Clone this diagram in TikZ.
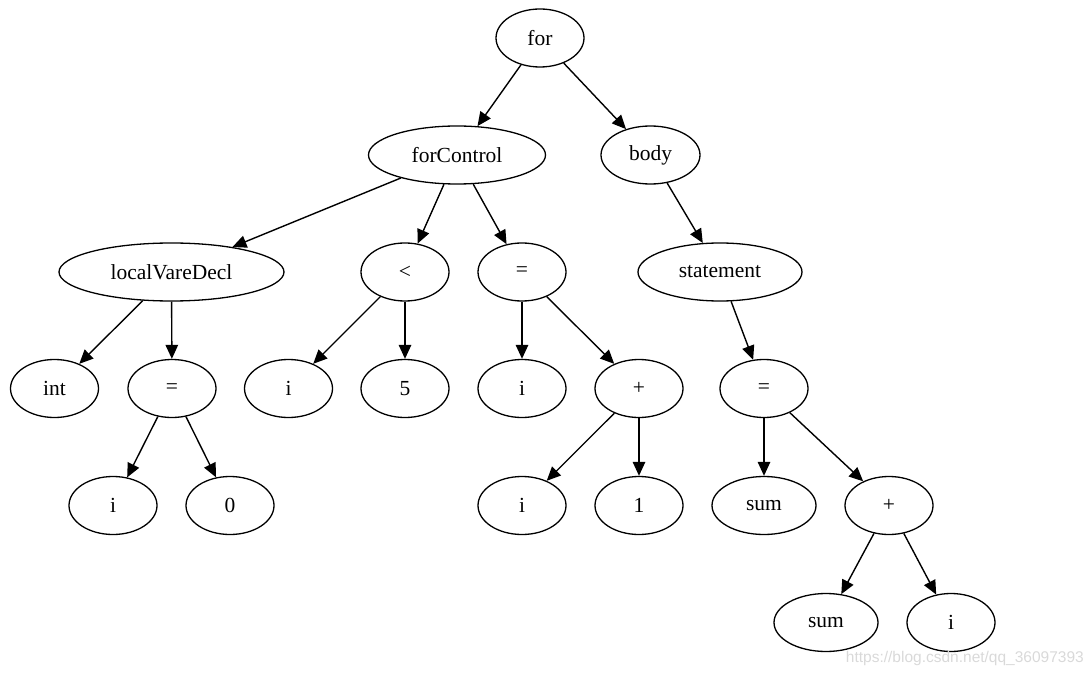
\documentclass[tikz,border=0pt]{standalone}
\usepackage{fontspec}
\setmainfont{Liberation Serif}
\newfontfamily\wmfont{Liberation Sans}
\usetikzlibrary{shapes.geometric,arrows.meta}
\begin{document}
\begin{tikzpicture}[x=1pt,y=-1pt,
  tn/.style={ellipse,draw,line width=1.3pt,inner sep=0pt,minimum height=58pt,minimum width=88pt,font=\fontsize{21.5}{24}\selectfont},
  edge/.style={line width=1.4pt,-{Triangle[length=14pt,width=12.5pt]}}]
\useasboundingbox (0,0) rectangle (1092,676);
\node[tn] (for) at (540,38) {for};
\node[tn,minimum width=177pt] (fc) at (457,155) {forControl};
\node[tn,minimum width=99pt] (body) at (650.5,155) {body};
\node[tn,minimum width=225pt] (lvd) at (171.5,272) {localVareDecl};
\node[tn] (lt) at (405,272) {<};
\node[tn] (eq1) at (522,272) {=};
\node[tn,minimum width=164pt] (st) at (720,272) {statement};
\node[tn] (int) at (54.5,388.5) {int};
\node[tn] (eq0) at (172,388.5) {=};
\node[tn] (i1) at (288.5,388.5) {i};
\node[tn] (five) at (405,388.5) {5};
\node[tn] (i2) at (522,388.5) {i};
\node[tn] (pl1) at (639,388.5) {+};
\node[tn] (eq2) at (764,388.5) {=};
\node[tn] (i0) at (113,505.5) {i};
\node[tn] (zero) at (230,505.5) {0};
\node[tn] (i3) at (522,505.5) {i};
\node[tn] (one) at (639,505.5) {1};
\node[tn,minimum width=104pt] (sum1) at (764,505.5) {sum};
\node[tn] (pl2) at (889,505.5) {+};
\node[tn,minimum width=104pt] (sum2) at (826,622.5) {sum};
\node[tn] (i4) at (951,622.5) {i};
\node[text=gray!30,font=\wmfont\fontsize{15.5}{17}\selectfont,anchor=east,inner sep=0pt] (wm) at (1084,658) {https://blog.csdn.net/qq\_36097393};
\foreach \a/\b in {for/fc,for/body,fc/lvd,fc/lt,fc/eq1,body/st,lvd/int,lvd/eq0,lt/i1,lt/five,eq1/i2,eq1/pl1,st/eq2,eq0/i0,eq0/zero,pl1/i3,pl1/one,eq2/sum1,eq2/pl2,pl2/sum2,pl2/i4}
  \draw[edge] (\a) -- (\b);
\end{tikzpicture}
\end{document}
